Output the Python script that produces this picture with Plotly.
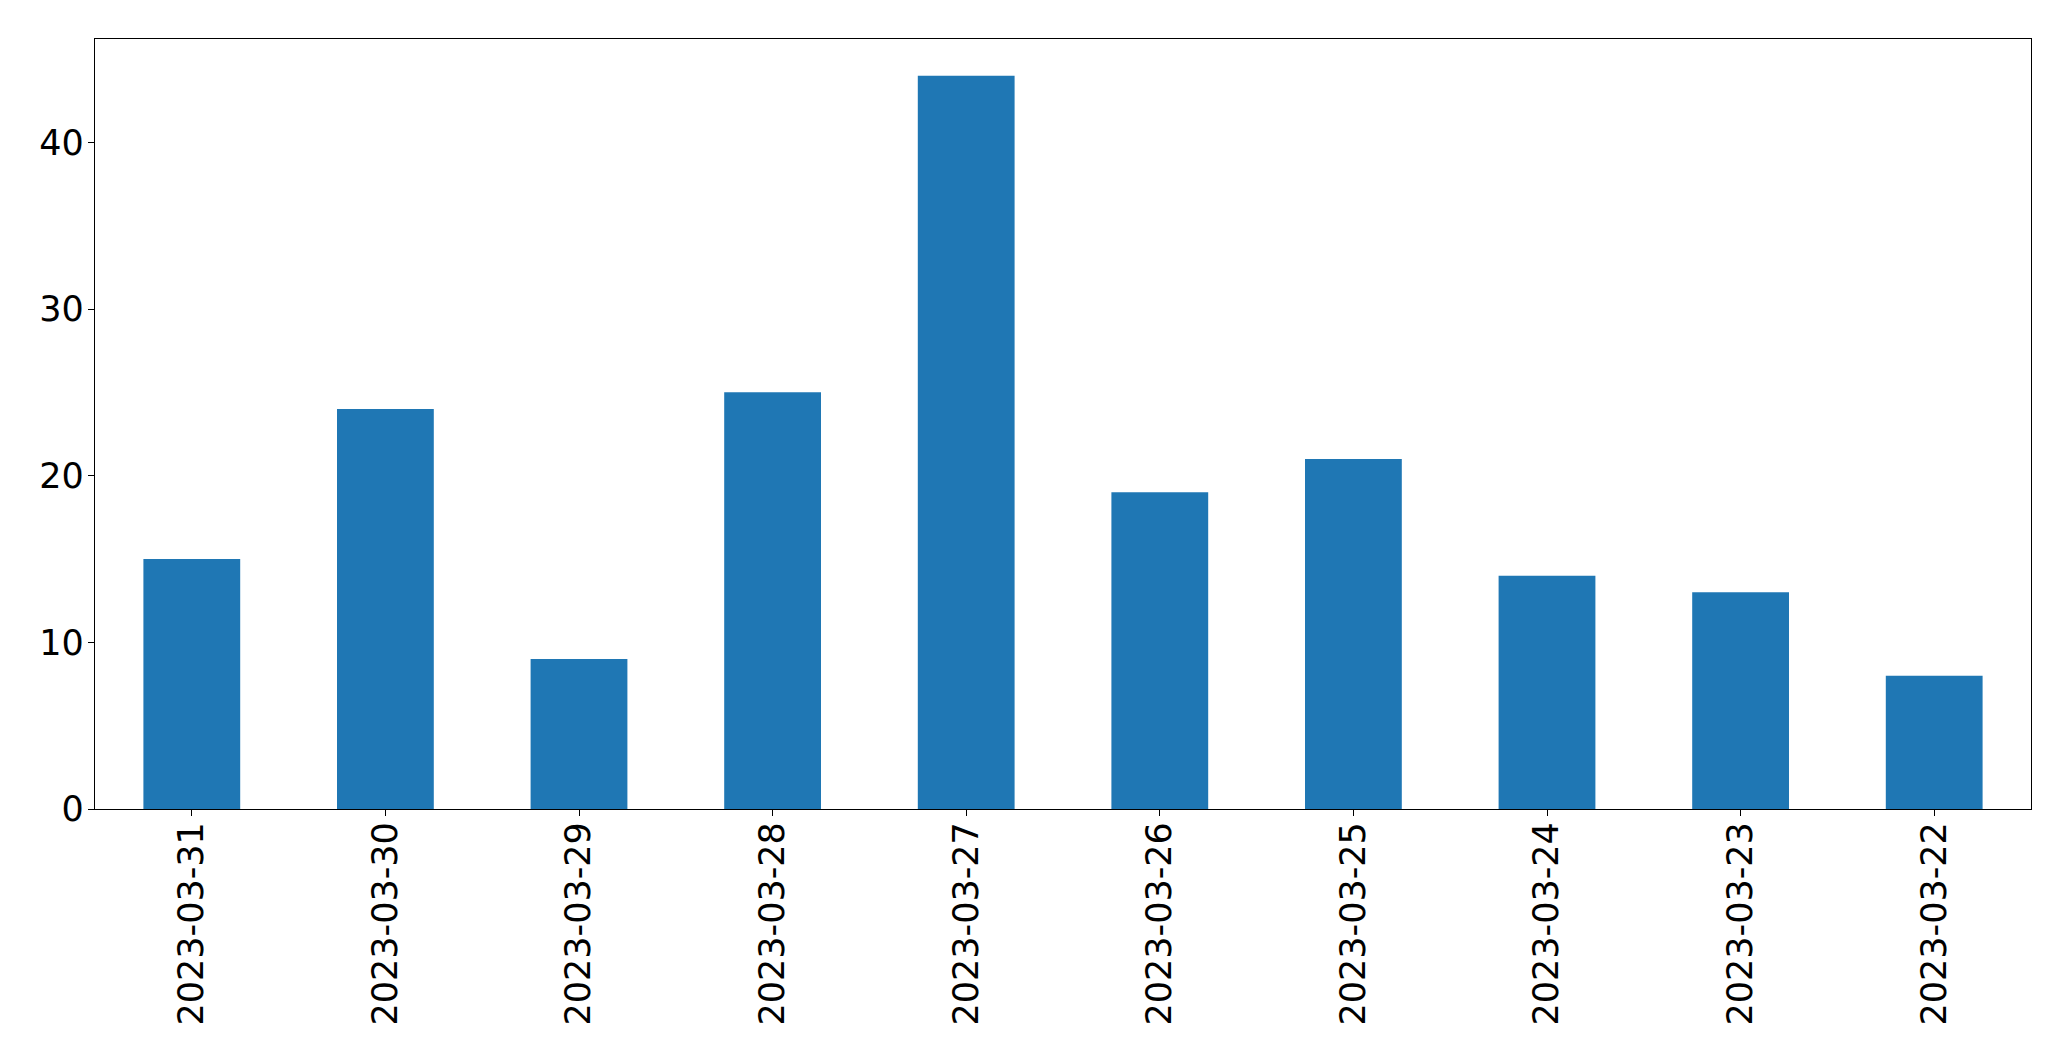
import plotly.graph_objects as go

dates = ["2023-03-31", "2023-03-30", "2023-03-29", "2023-03-28", "2023-03-27",
         "2023-03-26", "2023-03-25", "2023-03-24", "2023-03-23", "2023-03-22"]
counts = [15, 24, 9, 25, 44, 19, 21, 14, 13, 8]
y_ticks = [0, 10, 20, 30, 40]

fig = go.Figure(go.Bar(x=dates, y=counts, marker=dict(color="#1f77b4", line=dict(width=0))))

axis_common = dict(showline=True, linecolor="black", linewidth=1.3, mirror=True,
                   ticks="outside", ticklen=6, tickwidth=1.3, tickcolor="black",
                   showgrid=False, zeroline=False,
                   tickfont=dict(family="DejaVu Sans", size=35, color="black"))

fig.update_layout(
    width=2071, height=1061,
    margin=dict(l=95, r=40, t=39, b=252, pad=0),
    plot_bgcolor="white", paper_bgcolor="white",
    bargap=0.5, showlegend=False,
    xaxis=dict(type="category", range=[-0.5, 9.5], tickangle=-90,
               ticklabelstandoff=-8, **axis_common),
    yaxis=dict(range=[0, 46.2], tickvals=y_ticks, ticklabelstandoff=-3, **axis_common),
)

fig.write_html("out.html", config={"displayModeBar": False},
               post_script="document.body.style.margin='0';document.body.style.overflow='hidden';")
